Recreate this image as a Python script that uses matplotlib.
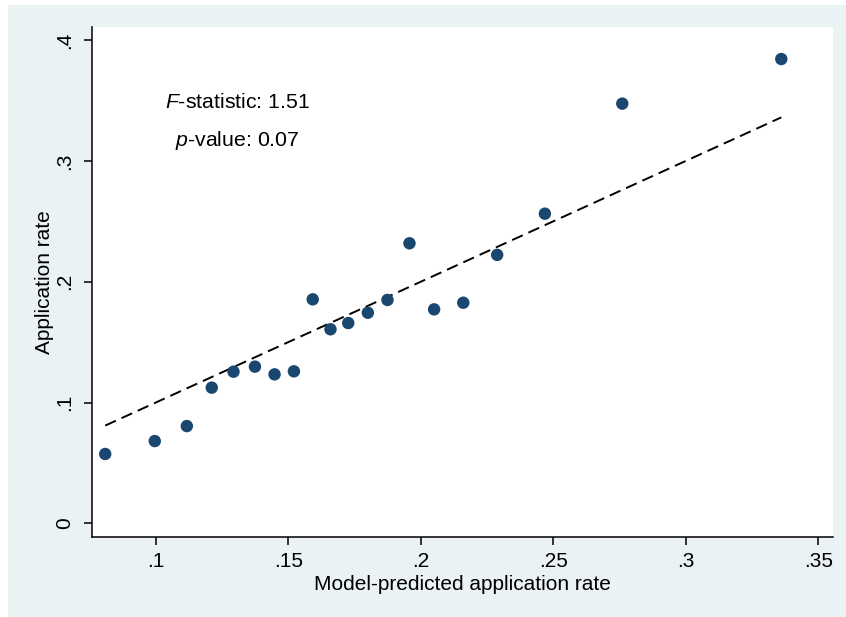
import numpy as np
import matplotlib
matplotlib.use('Agg')
import matplotlib.pyplot as plt
from matplotlib.patches import Rectangle

plt.rcParams['font.family'] = ['Liberation Sans', 'DejaVu Sans']
plt.rcParams['mathtext.fontset'] = 'custom'
plt.rcParams['mathtext.rm'] = 'Liberation Sans'
plt.rcParams['mathtext.it'] = 'Liberation Sans:italic'

# binned data: model-predicted vs. observed application rate
predicted = [0.0809, 0.0996, 0.1117, 0.1211, 0.1293, 0.1374, 0.1448, 0.1521,
             0.1592, 0.1659, 0.1726, 0.1800, 0.1874, 0.1957, 0.2050, 0.2160,
             0.2288, 0.2468, 0.2760, 0.3360]
observed = [0.0574, 0.0681, 0.0805, 0.1123, 0.1255, 0.1297, 0.1233, 0.1258,
            0.1854, 0.1606, 0.1658, 0.1743, 0.1849, 0.2318, 0.1771, 0.1826,
            0.2222, 0.2563, 0.3474, 0.3843]

xticks = [0.1, 0.15, 0.2, 0.25, 0.3, 0.35]
xticklabels = ['.1', '.15', '.2', '.25', '.3', '.35']
yticks = [0, 0.1, 0.2, 0.3, 0.4]
yticklabels = ['0', '.1', '.2', '.3', '.4']

f_stat = 1.51
p_val = 0.07

navy = '#1a476f'
bg = '#eaf2f3'

fig = plt.figure(figsize=(8.46, 6.17), dpi=100)
fig.patch.set_facecolor('white')
fig.patches.append(Rectangle((8 / 846, 0), 838 / 846, 612 / 617,
                             transform=fig.transFigure, facecolor=bg,
                             edgecolor='none', zorder=-10))

ax = fig.add_axes([0.1087, 0.1297, 0.9846 - 0.1087, 0.9562 - 0.1297])
ax.set_facecolor('white')

# 45 degree line over the range of the predictions
x_line = np.array([min(predicted), max(predicted)])
ax.plot(x_line, x_line, color='black', lw=1.4, dashes=(6, 3.2), zorder=2)

ax.scatter(predicted, observed, s=80, color=navy, edgecolors='none', zorder=3)

ax.set_xlim(0.0759, 0.3555)
ax.set_ylim(-0.0113, 0.4108)

ax.set_xticks(xticks)
ax.set_xticklabels(xticklabels)
ax.set_yticks(yticks)
ax.set_yticklabels(yticklabels, rotation=90, va='center')

ax.tick_params(axis='both', direction='out', length=6, width=1.1,
               labelsize=15, color='black')
ax.tick_params(axis='x', pad=5)
ax.tick_params(axis='y', pad=7)

for s in ['top', 'right']:
    ax.spines[s].set_visible(False)
for s in ['left', 'bottom']:
    ax.spines[s].set_linewidth(1.1)

ax.set_xlabel('Model-predicted application rate', fontsize=15, labelpad=3)
ax.set_ylabel('Application rate', fontsize=15, labelpad=1)

ax.text(0.1307, 0.348, r'$\it{F}$-statistic: %.2f' % f_stat, fontsize=15.3,
        ha='center', va='center')
ax.text(0.1307, 0.317, r'$\it{p}$-value: %.2f' % p_val, fontsize=15.3,
        ha='center', va='center')

fig.savefig('out.png', dpi=100)
